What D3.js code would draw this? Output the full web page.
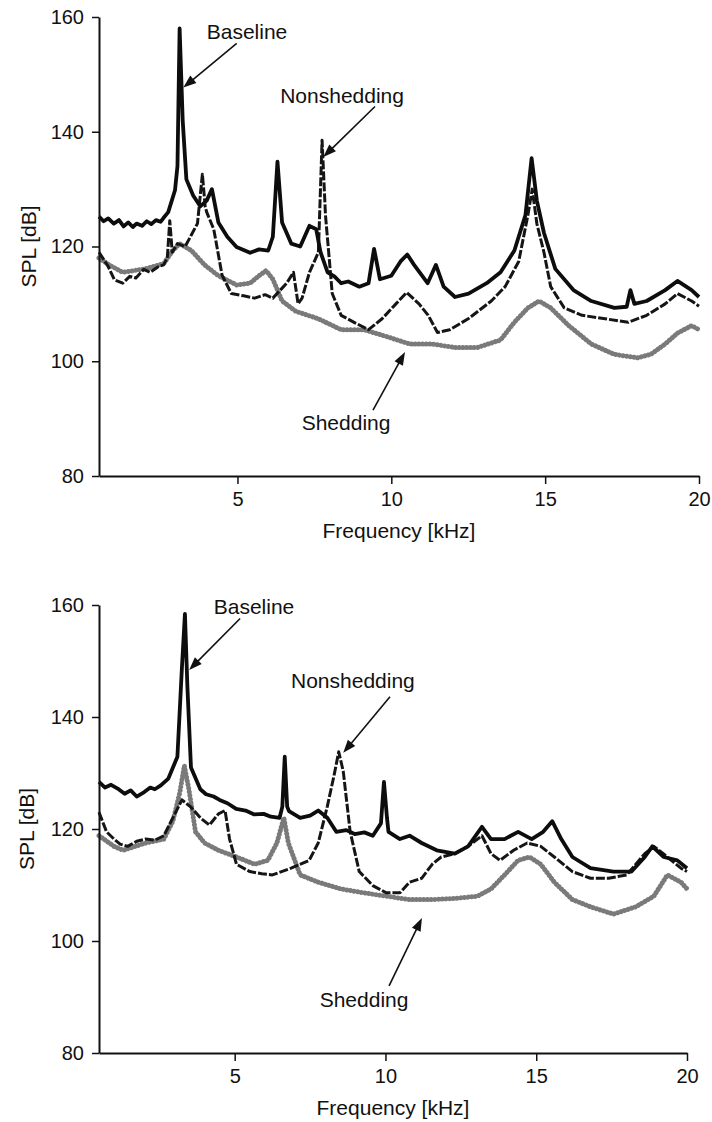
<!DOCTYPE html>
<html>
<head>
<meta charset="utf-8">
<script src="https://cdn.jsdelivr.net/npm/d3@7"></script>
<style>
  html, body { margin: 0; padding: 0; background: #fff; }
  svg { display: block; }
  text { font-family: "Liberation Sans", Arial, Helvetica, sans-serif; fill: #111; }
</style>
</head>
<body>
<svg id="chart" width="712" height="1122"></svg>
<script>
// ---------- DATA (frequency kHz, SPL dB) ----------
const xTicks = [5, 10, 15, 20];
const yTicks = [80, 100, 120, 140, 160];
const seriesNames = ["Baseline", "Nonshedding", "Shedding"];

// Top panel
const baselineA = [[0.5,125.2],[0.65,124.4],[0.8,124.9],[0.98,124.0],[1.15,124.6],[1.3,123.5],[1.45,124.2],[1.6,123.4],[1.72,124.0],[1.9,123.6],[2.05,124.4],[2.2,123.9],[2.35,124.6],[2.5,124.3],[2.6,125.0],[2.75,126],[2.97,129.8],[3.05,134],[3.12,158],[3.22,142],[3.34,131.7],[3.56,128.9],[3.79,127],[4.0,128],[4.17,130],[4.38,124.2],[4.67,121.7],[4.97,119.9],[5.2,119.4],[5.41,118.9],[5.7,119.5],[6.0,119.3],[6.15,121.7],[6.3,134.8],[6.45,124.2],[6.75,120.5],[7.04,120],[7.34,123.6],[7.56,123],[7.7,119],[7.93,115.5],[8.15,114.8],[8.37,113.6],[8.6,113.9],[8.96,113],[9.26,113.6],[9.44,119.6],[9.63,114.3],[10.0,114.9],[10.3,117.4],[10.52,118.6],[10.74,116.8],[11.18,113.6],[11.45,116.8],[11.7,113],[12.07,111.2],[12.51,111.8],[13.1,113.6],[13.55,115.5],[14.0,119.3],[14.36,125.5],[14.56,135.4],[14.73,128],[14.96,122.4],[15.33,116.1],[15.92,112.4],[16.5,110.5],[17.25,109.3],[17.65,109.5],[17.77,112.4],[17.9,110],[18.3,110.5],[18.9,112.4],[19.3,114],[19.76,112.4],[20,111.2]];
const nonsheddingA = [[0.5,119],[0.8,116.5],[1.0,114.2],[1.27,113.6],[1.5,114.8],[1.7,114.5],[1.95,116],[2.16,115.5],[2.4,116.4],[2.6,116.8],[2.72,118],[2.8,124.5],[2.88,119],[3.05,120.5],[3.3,120],[3.5,122],[3.7,124],[3.86,132.6],[3.95,127],[4.0,126],[4.23,123],[4.5,115],[4.8,111.8],[5.2,111.4],[5.56,111],[5.9,111.6],[6.15,111],[6.6,113.6],[6.82,115.5],[6.97,110],[7.1,111],[7.34,115.5],[7.63,119],[7.75,138.5],[7.86,125.5],[8.08,111.8],[8.37,108],[8.82,106.7],[9.26,105.5],[9.7,107.4],[10.15,110],[10.5,112],[10.9,110],[11.2,108],[11.5,105],[11.9,105.5],[12.5,107.4],[13.25,110.5],[13.7,113],[14.14,117.4],[14.44,125.5],[14.58,130],[14.73,124],[14.96,119],[15.18,113],[15.62,109.3],[16.2,108],[16.95,107.4],[17.7,106.8],[18.3,108],[18.9,110],[19.3,111.8],[19.76,110.5],[20,109.6]];
const sheddingA = [[0.5,118],[0.83,116.8],[1.27,115.5],[2.0,116.1],[2.6,117],[2.9,119.3],[3.12,120.5],[3.5,119.3],[3.93,116.8],[4.38,114.9],[4.97,113.3],[5.41,113.6],[5.7,114.9],[5.93,115.8],[6.15,114.3],[6.45,110.5],[6.9,108.7],[7.63,107.4],[8.37,105.5],[9.11,105.5],[9.85,104.3],[10.6,103],[11.33,103],[12.07,102.4],[12.8,102.4],[13.55,103.7],[14.0,106.8],[14.44,109.3],[14.8,110.5],[15.18,109.3],[15.77,106.2],[16.5,103],[17.25,101.2],[18.0,100.6],[18.43,101.2],[18.9,103],[19.3,104.9],[19.76,106.2],[20,105.5]];

// Bottom panel
const baselineB = [[0.5,128.4],[0.7,127.4],[0.9,127.9],[1.15,127.1],[1.35,126.3],[1.55,126.9],[1.75,125.8],[2.0,126.6],[2.2,127.4],[2.35,127.1],[2.55,127.8],[2.8,129],[3.1,132.9],[3.25,148.8],[3.35,158.4],[3.43,145.6],[3.55,131],[3.86,127.1],[4.05,126.2],[4.3,125.8],[4.5,125.2],[4.76,124.6],[5.05,123.6],[5.36,123.3],[5.65,122.6],[5.96,122.7],[6.2,122.2],[6.49,122],[6.58,124],[6.66,132.9],[6.74,124],[6.8,123.2],[7.17,122],[7.5,122.4],[7.77,123.3],[8.07,122],[8.37,119.5],[8.7,119.8],[8.98,119.1],[9.3,119.4],[9.58,118.8],[9.85,121],[9.95,128.4],[10.05,122],[10.1,119.5],[10.48,118.2],[10.8,118.8],[11.2,117.5],[11.7,116.2],[12.3,115.6],[12.74,116.9],[13.2,120.4],[13.5,118.2],[13.95,118.2],[14.4,119.5],[14.85,118.2],[15.23,119.5],[15.53,121.4],[15.83,118.2],[16.2,115],[16.8,113],[17.56,112.4],[18.16,112.4],[18.6,115],[18.85,116.9],[19.23,115],[19.68,114.4],[20,113]];
const nonsheddingB = [[0.5,123],[0.75,119.5],[1.0,118.2],[1.2,117.3],[1.45,116.9],[1.75,117.8],[2.05,118.2],[2.35,118.0],[2.65,118.8],[2.95,122],[3.25,125.2],[3.55,123.9],[3.86,122],[4.16,120.7],[4.46,122.7],[4.68,123.3],[4.83,118.2],[5.06,113.7],[5.5,112.4],[5.9,112.0],[6.25,111.8],[6.87,113],[7.47,114.4],[7.77,117.5],[8.07,124],[8.3,129.7],[8.45,133.8],[8.6,130.3],[8.83,119.5],[9.13,112.4],[9.58,109.9],[10.03,108.6],[10.48,108.6],[10.8,110.5],[11.2,111.2],[11.55,113.7],[11.85,115],[12.3,115.6],[12.74,116.9],[13.2,118.8],[13.5,115.6],[13.8,114.4],[14.25,116.2],[14.7,117.5],[15.15,116.9],[15.6,115],[16.2,112.4],[16.8,111.2],[17.4,111.2],[18.0,111.8],[18.6,115.6],[18.9,116.9],[19.35,115],[19.8,113],[20,112.4]];
const sheddingB = [[0.5,118.8],[1.0,116.9],[1.3,116.2],[2.05,117.5],[2.65,118.2],[2.95,121.4],[3.18,126.5],[3.33,131.3],[3.48,127.1],[3.7,119.5],[4.0,117.5],[4.46,116.2],[5.06,115],[5.66,113.7],[6.1,114.4],[6.4,117.5],[6.63,122],[6.78,117.5],[7.17,111.8],[7.77,110.5],[8.52,109.3],[9.28,108.6],[10.03,108],[10.78,107.4],[11.54,107.4],[12.3,107.6],[13.05,108],[13.5,109.3],[13.95,111.8],[14.4,114.4],[14.78,115],[15.15,113.7],[15.6,110.5],[16.2,107.4],[16.8,106.1],[17.56,104.8],[18.3,106.1],[18.9,108],[19.35,111.8],[19.8,110.5],[20,109.3]];

// Annotations: label, text position [kHz, dB], arrow start, arrow tip
const notesA = [
  ["Baseline",    [5.31,157.4], [4.975,155.4], [3.24,147.7]],
  ["Nonshedding", [8.40,146.4], [9.47,144.4],  [7.79,135.6]],
  ["Shedding",    [8.53,89.4],  [9.405,91.5],  [10.445,101.6]]
];
const notesB = [
  ["Baseline",    [5.64,159.8], [5.18,157.6],  [3.49,148.4]],
  ["Nonshedding", [8.92,146.6], [10.15,143.6], [8.60,133.6]],
  ["Shedding",    [9.29,89.5],  [10.12,92.0],  [11.21,104.1]]
];

// ---------- DRAW ----------
const svg = d3.select("#chart");
const FONT = 20;

function drawPanel(cfg) {
  const x = d3.scaleLinear().domain([0.5, 20]).range([cfg.left, cfg.right]);
  const y = d3.scaleLinear().domain([80, 160]).range([cfg.bottom, cfg.top]);
  const g = svg.append("g");

  const line = d3.line().x(d => x(d[0])).y(d => y(d[1]));

  // Shedding (gray dotted band)
  g.append("path").datum(cfg.shed).attr("d", line)
    .attr("fill", "none").attr("stroke", "#7a7a7a").attr("stroke-width", 5)
    .attr("stroke-linecap", "round").attr("stroke-linejoin", "round")
    .attr("stroke-dasharray", "0.1,3.6");
  // Nonshedding (dashed black)
  g.append("path").datum(cfg.non).attr("d", line)
    .attr("fill", "none").attr("stroke", "#151515").attr("stroke-width", 3)
    .attr("stroke-linejoin", "round").attr("stroke-dasharray", "9,2");
  // Baseline (solid black)
  g.append("path").datum(cfg.base).attr("d", line)
    .attr("fill", "none").attr("stroke", "#0d0d0d").attr("stroke-width", 3.8)
    .attr("stroke-linejoin", "round");

  // Axes
  const ax = g.append("g").attr("transform", `translate(0,${cfg.bottom})`)
    .call(d3.axisBottom(x).tickValues(xTicks).tickSize(8).tickSizeOuter(0).tickPadding(8));
  const ay = g.append("g").attr("transform", `translate(${cfg.left},0)`)
    .call(d3.axisLeft(y).tickValues(yTicks).tickSize(7).tickSizeOuter(0).tickPadding(8));
  [ax, ay].forEach(a => {
    a.select(".domain").attr("stroke", "#111").attr("stroke-width", 2);
    a.selectAll(".tick line").attr("stroke", "#111").attr("stroke-width", 1.5);
    a.selectAll(".tick text").attr("font-size", FONT).attr("fill", "#111")
      .style("font-family", "'Liberation Sans', Arial, sans-serif");
  });

  // Axis titles
  g.append("text").attr("x", (cfg.left + cfg.right) / 2).attr("y", cfg.bottom + 54)
    .attr("text-anchor", "middle").attr("dominant-baseline", "central")
    .attr("font-size", 21).text("Frequency [kHz]");
  g.append("text")
    .attr("transform", `translate(${cfg.ytitleX},${(cfg.top + cfg.bottom) / 2}) rotate(-90)`)
    .attr("text-anchor", "middle").attr("dominant-baseline", "central")
    .attr("font-size", 21).text("SPL [dB]");

  // Annotations
  cfg.notes.forEach(([label, tp, a0, a1]) => {
    g.append("text").attr("x", x(tp[0])).attr("y", y(tp[1]))
      .attr("text-anchor", "middle").attr("dominant-baseline", "central")
      .attr("font-size", 21).text(label);
    const x0 = x(a0[0]), y0 = y(a0[1]), x1 = x(a1[0]), y1 = y(a1[1]);
    const dx = x1 - x0, dy = y1 - y0, L = Math.hypot(dx, dy);
    const ux = dx / L, uy = dy / L, hl = 13, hw = 4.8;
    const bx = x1 - ux * hl, by = y1 - uy * hl;
    g.append("line").attr("x1", x0).attr("y1", y0).attr("x2", bx + ux * 2).attr("y2", by + uy * 2)
      .attr("stroke", "#111").attr("stroke-width", 1.6);
    g.append("path")
      .attr("d", `M${x1},${y1}L${bx - uy * hw},${by + ux * hw}L${bx + uy * hw},${by - ux * hw}Z`)
      .attr("fill", "#111");
  });
}

drawPanel({ left: 99, right: 699, top: 17, bottom: 476, ytitleX: 28,
  base: baselineA, non: nonsheddingA, shed: sheddingA, notes: notesA });
drawPanel({ left: 99, right: 687, top: 605, bottom: 1053, ytitleX: 26,
  base: baselineB, non: nonsheddingB, shed: sheddingB, notes: notesB });
</script>
</body>
</html>
